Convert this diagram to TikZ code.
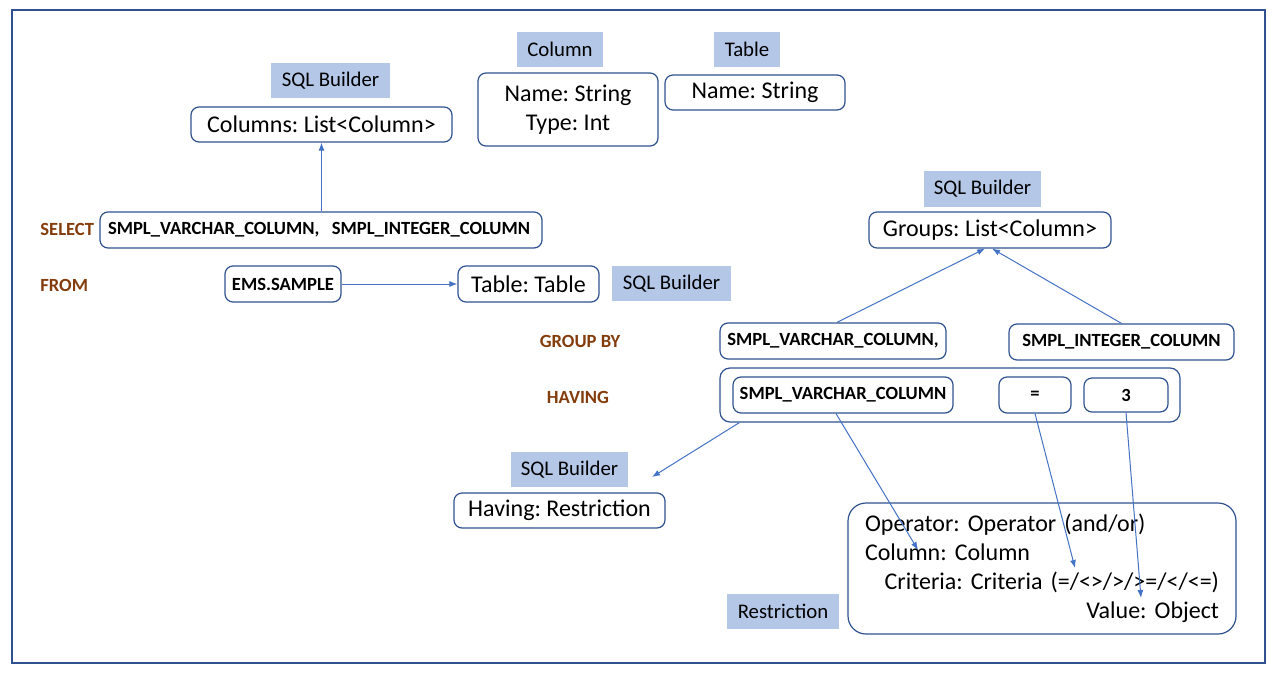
\documentclass[tikz,border=0pt]{standalone}
\usepackage{fontspec}
\setmainfont{Carlito}
\usepackage{xcolor}
\usepackage{tikz}
\usetikzlibrary{arrows.meta}

\definecolor{tagblue}{HTML}{B4C7E7}
\definecolor{edgeblue}{HTML}{2F528F}
\definecolor{linkblue}{HTML}{4472C4}
\definecolor{kwbrown}{HTML}{843C0C}

\begin{document}
\frenchspacing
\begin{tikzpicture}[x=0.5pt,y=-0.5pt,
		tag/.style={fill=tagblue,inner sep=0pt,minimum height=17.5pt,font=\fontsize{10.4}{12}\selectfont},
		field/.style={draw=edgeblue,line width=0.6pt,rounded corners=4pt,fill=white,inner sep=0pt,minimum height=17.5pt,font=\fontsize{12}{14.5}\selectfont},
		sqlbox/.style={draw=edgeblue,line width=0.6pt,rounded corners=4pt,fill=white,inner sep=0pt,minimum height=18pt,font=\bfseries\fontsize{9.3}{11}\selectfont},
		kw/.style={text=kwbrown,inner sep=0pt,font=\bfseries\fontsize{9.3}{11}\selectfont},
		link/.style={draw=linkblue,line width=0.5pt,-{Latex[length=4pt,width=3pt]}}]
		\useasboundingbox (0,0) rectangle (1277,674);
		\draw[edgeblue,line width=0.6pt] (12,10) rectangle (1265,663);
		
		% class boxes
		\node[tag,minimum width=43pt] (tagcol) at (560,49.5) {Column};
		\node[field,minimum width=90pt,minimum height=36.5pt,align=center] (col) at (568,109.5) {Name: String\\Type: Int};
		\node[tag,minimum width=33pt] (tagtbl) at (747,49.5) {Table};
		\node[field,minimum width=90pt] (tblname) at (755,92.5) {Name: String};
		
		% select
		\node[tag,minimum width=59.5pt] (sbcols) at (330.5,80.5) {SQL Builder};
		\node[field,minimum width=130.5pt] (cols) at (321.5,124.5) {Columns: List<Column>};
		\node[kw,anchor=west] (kwsel) at (40,229) {SELECT};
		\node[sqlbox,text width=213pt,inner xsep=4pt,align=left] (sel) at (321,230) {SMPL\_VARCHAR\_COLUMN,\ \ SMPL\_INTEGER\_COLUMN};
		\draw[link] (sel.north -| cols.south) -- (cols.south);
		
		% from
		\node[kw,anchor=west] (kwfrom) at (40,285) {FROM};
		\node[sqlbox,minimum width=58pt] (ems) at (283,284) {EMS.SAMPLE};
		\node[field,minimum width=70.5pt,minimum height=18pt] (tbl) at (528.5,284) {Table: Table};
		\node[tag,minimum width=59.5pt] (sbtbl) at (671.5,283.5) {SQL Builder};
		\draw[link] (ems.east) -- (tbl.west);
		
		% group by
		\node[tag,minimum width=58.5pt,minimum height=18pt] (sbgrp) at (982.5,189) {SQL Builder};
		\node[field,minimum width=121pt,minimum height=18pt] (grp) at (990,230) {Groups: List<Column>};
		\node[kw] (kwgrp) at (580,341) {GROUP BY};
		\node[sqlbox,minimum width=113pt] (grpvar) at (833,341) {SMPL\_VARCHAR\_COLUMN,};
		\node[sqlbox,minimum width=112.5pt] (grpint) at (1121.5,342) {SMPL\_INTEGER\_COLUMN};
		\draw[link] ([xshift=2pt]grpvar.north) -- ([xshift=-2.5pt]grp.south);
		\draw[link] (grpint.north) -- ([xshift=1pt]grp.south);
		
		% having
		\node[kw] (kwhav) at (578,397) {HAVING};
		\node[sqlbox,minimum width=230pt,minimum height=27pt,rounded corners=5pt] (hav) at (950,395) {};
		\node[sqlbox,minimum width=110pt] (hvar) at (843,395) {SMPL\_VARCHAR\_COLUMN};
		\node[sqlbox,minimum width=36pt] (heq) at (1035,395) {=};
		\node[sqlbox,minimum width=42pt,minimum height=17pt] (hval) at (1126,395) {3};
		\node[tag,minimum width=58.5pt] (sbhav) at (569.5,469.5) {SQL Builder};
		\node[field,minimum width=105.5pt] (havres) at (559.5,510.5) {Having: Restriction};
		
		% restriction
		\node[field,text width=177pt,inner xsep=8.5pt,minimum height=65.5pt,rounded corners=9pt,align=left] (res) at (1042,568.5)
			{Operator: Operator (and/or)\\Column: Column\\\makebox[177pt][r]{Criteria: Criteria (=/<>/>/>=/</<=)}\\\makebox[177pt][r]{Value: Object}};
		\node[tag,minimum width=56pt] (tagres) at (783,611.5) {Restriction};
		
		\coordinate (havtip) at (652,477);
		\coordinate (coltip) at (918,550);
		\coordinate (crittip) at (1075,568);
		\coordinate (valtip) at (1141,598);
		\draw[link] ([xshift=10pt]hav.south west) -- (havtip);
		\draw[link] ([xshift=-3.5pt]hvar.south) -- (coltip);
		\draw[link] (heq.south) -- (crittip);
		\draw[link] (hval.south) -- (valtip);
	\end{tikzpicture}
\end{document}
